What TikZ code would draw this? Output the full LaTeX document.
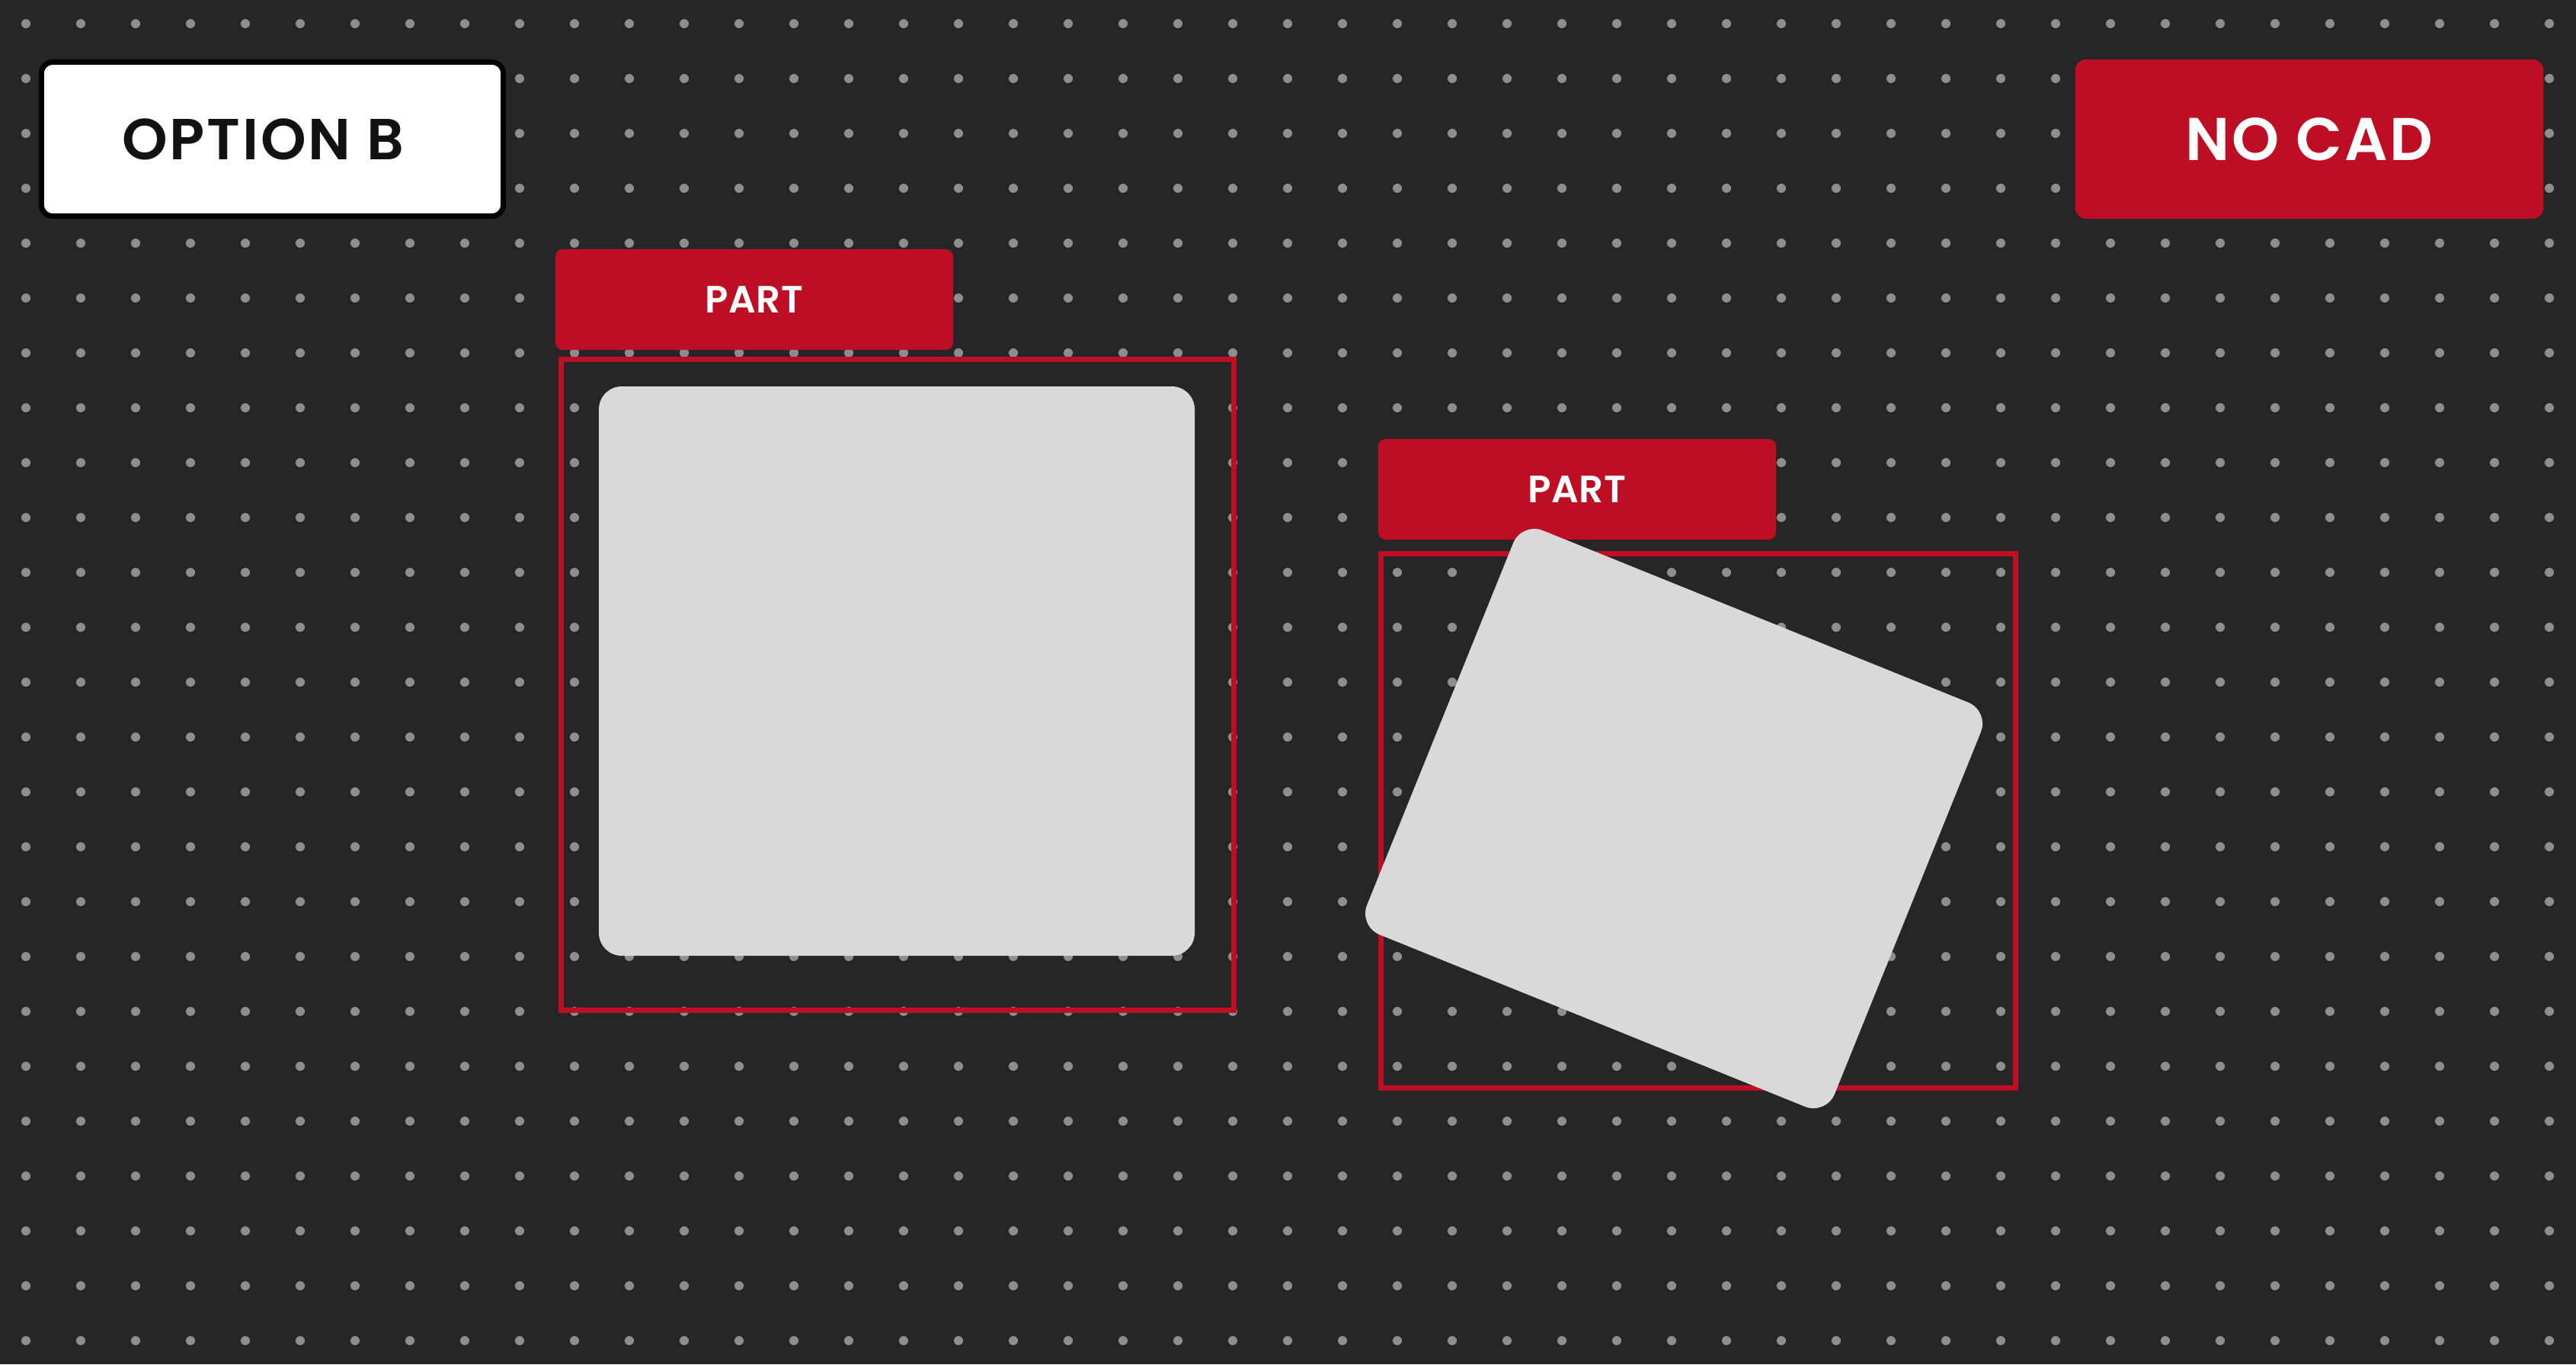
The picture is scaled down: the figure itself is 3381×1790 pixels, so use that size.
\documentclass[tikz,border=0pt]{standalone}
\usepackage{fontspec}
\newfontfamily\labelfont{Poppins SemiBold}[LetterSpace=3.7]
\newfontfamily\tagfont{Poppins SemiBold}[LetterSpace=1.3]
\definecolor{boardbg}{RGB}{38,38,40}
\definecolor{gridgray}{RGB}{142,142,142}
\definecolor{tagred}{RGB}{190,14,36}
\definecolor{partgray}{RGB}{217,217,217}

\begin{document}
\begin{tikzpicture}[x=0.01cm, y=-0.01cm,
	tag/.style={fill=tagred, text=white, inner sep=0pt, rounded corners=0.1cm,
		minimum width=5.22cm, minimum height=1.32cm,
		font=\tagfont\fontsize{14.2pt}{17pt}\selectfont},
	frame/.style={draw=tagred, line width=0.07cm},
	part/.style={fill=partgray, rounded corners=0.3cm}]

		% board and dot grid
		\fill [boardbg] (0, 0) rectangle (3381, 1790);
		\foreach \i in {0,...,46}
			\foreach \j in {0,...,24}
				\fill [gridgray] (34+72*\i, 31+72*\j) circle (0.06cm);

		% badges
		\node [draw=black, line width=0.07cm, fill=white, rounded corners=0.15cm, inner sep=0pt,
			minimum width=6.06cm, minimum height=2.02cm, text=black!93,
			font=\labelfont\fontsize{21.6pt}{26pt}\selectfont]	(option) at (357.5, 182.5) {\kern-0.24cm OPTION B};
		\node [fill=tagred, rounded corners=0.15cm, inner sep=0pt,
			minimum width=6.145cm, minimum height=2.09cm, text=white,
			font=\labelfont\fontsize{22.5pt}{27pt}\selectfont]	(nocad) at (3031, 182.5) {NO CAD};

		% straight part
		\draw [frame]		(736, 471.5) rectangle (1619, 1325.5);
		\node [tag]			(tagA) at (990, 393) {PART};
		\fill [part]		(786, 507) rectangle (1568, 1254);

		% rotated part
		\draw [frame]		(1812.5, 726.5) rectangle (2645, 1427);
		\node [tag]			(tagB) at (2070, 642) {PART};
		\fill [part, shift={(2197, 1074)}, rotate=-22]
			(-331, -286) -- (331, -286) -- (331, 286) -- (-331, 286) -- cycle;

	\end{tikzpicture}
\end{document}
